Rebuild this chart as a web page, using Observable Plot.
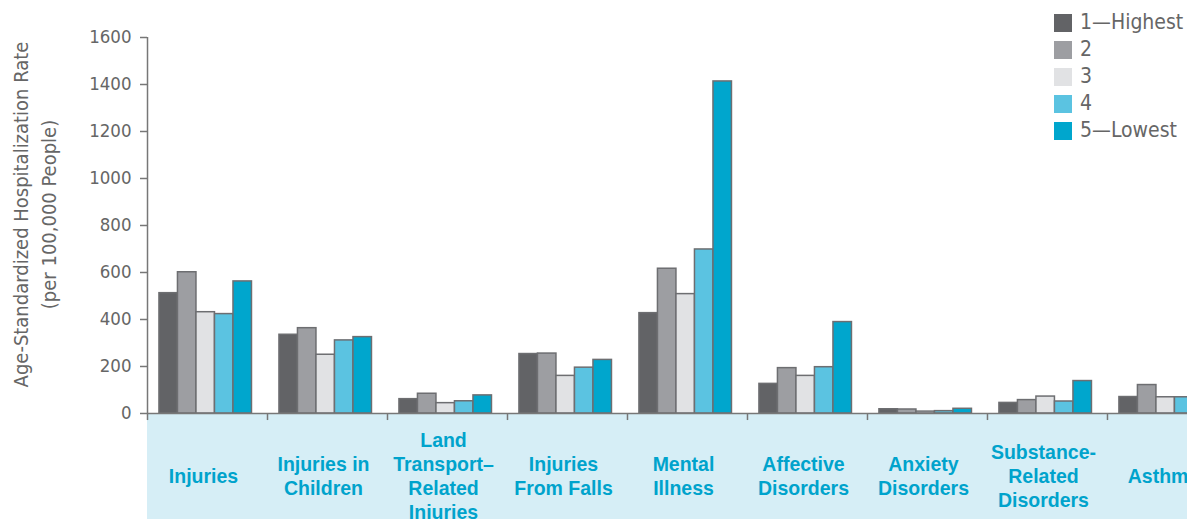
<!DOCTYPE html>
<html><head><meta charset="utf-8">
<script src="https://cdn.jsdelivr.net/npm/d3@7"></script>
<script src="https://cdn.jsdelivr.net/npm/@observablehq/plot@0.6"></script>
<style>
html,body{margin:0;padding:0;background:#fff;overflow:hidden;width:1187px;height:519px;}
#chart{position:absolute;left:0;top:0;}
#chart svg{max-width:none;}
#legend{position:absolute;left:1054px;top:9px;font-family:"DejaVu Sans Condensed","Liberation Sans Narrow",sans-serif;font-size:21px;color:#666;white-space:nowrap;}
.row{display:flex;align-items:center;height:27px;line-height:27px;}
.sw{width:18px;height:18px;margin-right:8px;flex:none;}
</style></head><body>
<div id="chart"></div><div id="legend"></div>
<script>
const categories = ["Injuries", "Injuries in Children", "Land Transport–Related Injuries", "Injuries From Falls", "Mental Illness", "Affective Disorders", "Anxiety Disorders", "Substance-Related Disorders", "Asthma"];
const categoryLabels = ["Injuries", "Injuries in\nChildren", "Land\nTransport–\nRelated\nInjuries", "Injuries\nFrom Falls", "Mental\nIllness", "Affective\nDisorders", "Anxiety\nDisorders", "Substance-\nRelated\nDisorders", "Asthma"];
const quintiles = ["1—Highest", "2", "3", "4", "5—Lowest"];
const colors = ["#626366", "#9d9ea2", "#e1e2e4", "#5bc3e1", "#00a6cd"];
const q1 = [512, 335, 61, 253, 427, 126, 18, 45, 70];
const q2 = [601, 363, 84, 255, 616, 193, 17, 57, 121];
const q3 = [431, 250, 44, 160, 508, 160, 8, 72, 69];
const q4 = [423, 311, 52, 195, 698, 197, 10, 51, 69];
const q5 = [562, 325, 77, 228, 1413, 389, 20, 138, 85];
const yTicks = [0, 200, 400, 600, 800, 1000, 1200, 1400, 1600];
const yLabel = "Age-Standardized Hospitalization Rate\n(per 100,000 People)";

const series = [q1, q2, q3, q4, q5];
const data = categories.flatMap((c, i) => quintiles.map((q, j) => ({category: c, q: j + 1, quintile: q, value: series[j][i]})));
const labelData = categories.map((c, i) => ({category: c, label: categoryLabels[i]}));

const narrow = '"DejaVu Sans Condensed", "Liberation Sans Narrow", sans-serif';
const stepPx = 120.6, barPx = 18.6, offPx = 12;
const x0 = -offPx / barPx, x1 = (stepPx - offPx) / barPx;

const chart = Plot.plot({
  width: 144 + 9 * stepPx, height: 519,
  marginLeft: 144, marginRight: 0, marginTop: 37, marginBottom: 106,
  style: {fontFamily: narrow, background: "transparent", color: "#666"},
  fx: {domain: categories, padding: 0, axis: null},
  x: {domain: [x0, x1], axis: null},
  y: {domain: [0, 1600], axis: null},
  color: {domain: quintiles, range: colors},
  marks: [
    Plot.rect([0], {y1: 0, y2: -470, fill: "#d6eef6"}),
    Plot.ruleX([x0], {y1: 0, y2: -30, stroke: "#777", strokeWidth: 1.5}),
    Plot.rect(data, {fx: "category", x1: d => d.q - 1, x2: d => d.q, y1: 0, y2: "value", fill: "quintile", stroke: "#6d6e71", strokeWidth: 1.5}),
    Plot.ruleY([0], {stroke: "#777", strokeWidth: 1.5}),
    Plot.ruleX([{category: categories[0]}], {fx: "category", x: () => x0, y1: 0, y2: 1600, stroke: "#777", strokeWidth: 1.5}),
    Plot.axisY({ticks: yTicks, tickFormat: d3.format("d"), tickSize: 7, tickPadding: 9, fontSize: 18.5, color: "#666", stroke: "#777", strokeWidth: 1.5, label: null}),
    Plot.text([{category: categories[0]}], {fx: "category", text: () => yLabel, frameAnchor: "left", rotate: -90, dx: -114, dy: -11, lineAnchor: "middle", textAnchor: "middle", fontSize: 20, fill: "#666", lineHeight: 1.4}),
    Plot.text(labelData, {fx: "category", text: "label", frameAnchor: "bottom", dy: 62, dx: -4, lineAnchor: "middle", lineHeight: 1.23, fontSize: 19.5, fontWeight: "bold", fill: "#00a3cc", fontFamily: '"Liberation Sans", Arial, sans-serif'})
  ]
});
document.getElementById("chart").append(chart);

const legend = document.getElementById("legend");
quintiles.forEach((q, i) => {
  const row = document.createElement("div");
  row.className = "row";
  const sw = document.createElement("div");
  sw.className = "sw";
  sw.style.background = colors[i];
  const t = document.createElement("span");
  t.textContent = q;
  row.append(sw, t);
  legend.append(row);
});
</script>
</body></html>
